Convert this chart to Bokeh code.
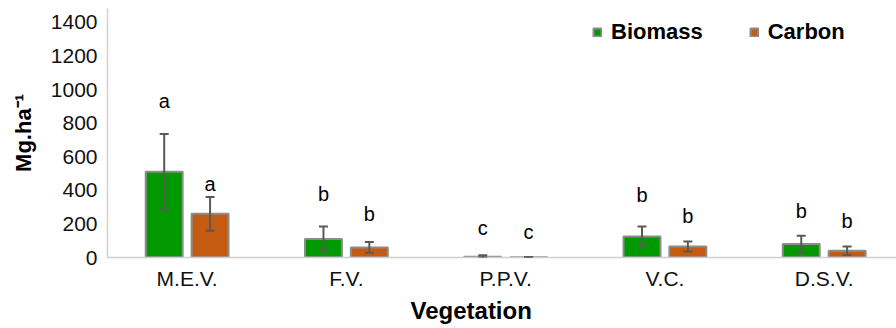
from bokeh.plotting import figure
from bokeh.models import (ColumnDataSource, Whisker, TeeHead, FixedTicker, Range1d,
                          Legend, LegendItem, Title)
from bokeh.core.properties import value
from bokeh.embed import file_html
from bokeh.resources import INLINE

# ---- data ----
categories = ["M.E.V.", "F.V.", "P.P.V.", "V.C.", "D.S.V."]
biomass = [510, 110, 5, 125, 80]
biomass_sd = [225, 75, 8, 60, 50]
carbon = [260, 60, 2, 65, 40]
carbon_sd = [100, 32, 1, 30, 25]
biomass_letters = ["a", "b", "c", "b", "b"]
carbon_letters = ["a", "b", "c", "b", "b"]
biomass_letter_y = [935, 380, 175, 370, 275]
carbon_letter_y = [435, 260, 150, 250, 220]
y_ticks = [0, 200, 400, 600, 800, 1000, 1200, 1400]

FONT = "Liberation Sans"
GREEN = "#009900"
ORANGE = "#c55a11"
EDGE = "#8c8c8c"
ERR = "#595959"
AXIS = "#d0d0d0"
OFF = 0.144
BW = 0.232

idx = list(range(len(categories)))


def make_src(vals, sds, letters, ly, off):
    return ColumnDataSource(dict(
        x=[i + off for i in idx],
        top=vals,
        upper=[v + s for v, s in zip(vals, sds)],
        lower=[max(v - s, 0) for v, s in zip(vals, sds)],
        ly=ly,
        lt=letters,
    ))


src_b = make_src(biomass, biomass_sd, biomass_letters, biomass_letter_y, -OFF)
src_c = make_src(carbon, carbon_sd, carbon_letters, carbon_letter_y, OFF)

p = figure(width=896, height=328, output_backend="svg", toolbar_location=None,
           x_range=Range1d(-0.5, 4.454), y_range=Range1d(0, 1483),
           min_border_left=107, min_border_right=0, min_border_top=8,
           min_border_bottom=71)
p.outline_line_color = None
p.xgrid.grid_line_color = None
p.ygrid.grid_line_color = None
p.background_fill_color = "white"
p.border_fill_color = "white"

rb = p.vbar(x="x", top="top", width=BW, source=src_b, fill_color=GREEN,
            line_color=EDGE, line_width=2)
rc = p.vbar(x="x", top="top", width=BW, source=src_c, fill_color=ORANGE,
            line_color=EDGE, line_width=2)

for src in (src_b, src_c):
    w = Whisker(source=src, base="x", upper="upper", lower="lower",
                line_color=ERR, line_width=2, level="overlay",
                upper_head=TeeHead(size=9, line_color=ERR, line_width=2),
                lower_head=TeeHead(size=9, line_color=ERR, line_width=2))
    p.add_layout(w)
    p.text(x="x", y="ly", text="lt", source=src, text_font=value(FONT),
           text_font_size="20px", text_align="center", text_baseline="middle",
           text_color="#000000")

# axes
p.xaxis.ticker = FixedTicker(ticks=idx)
p.xaxis.major_label_overrides = {i: c for i, c in zip(idx, categories)}
p.yaxis.ticker = FixedTicker(ticks=y_ticks)
for ax in (p.xaxis, p.yaxis):
    ax.axis_line_color = AXIS
    ax.axis_line_width = 1.5
    ax.major_tick_line_color = None
    ax.minor_tick_line_color = None
    ax.major_tick_out = 0
    ax.major_tick_in = 0
    ax.major_label_text_font = FONT
    ax.major_label_text_font_size = "21px"
    ax.major_label_text_color = "#111111"
p.xaxis.major_label_standoff = 9
p.yaxis.major_label_standoff = 10

p.yaxis.axis_label = "Mg.ha\u207b\u00b9"
p.yaxis.axis_label_text_font = FONT
p.yaxis.axis_label_text_font_style = "bold"
p.yaxis.axis_label_text_font_size = "22px"
p.yaxis.axis_label_text_color = "#000000"
p.yaxis.axis_label_standoff = 12

p.add_layout(Title(text="Vegetation", align="left", offset=303,
                   text_font=FONT, text_font_style="bold",
                   text_font_size="24px", text_color="#000000",
                   standoff=5), "below")

legend = Legend(items=[LegendItem(label="Biomass", renderers=[rb]),
                       LegendItem(label="Carbon", renderers=[rc])],
                orientation="horizontal", location=(485, 212),
                glyph_width=10, glyph_height=10, label_standoff=9, spacing=46,
                padding=0, margin=0, border_line_color=None,
                background_fill_alpha=0, label_text_font=FONT,
                label_text_font_style="bold", label_text_font_size="22px",
                label_height=10, label_text_baseline="middle",
                label_text_color="#000000")
p.add_layout(legend)

open("out.html", "w").write(file_html(p, INLINE))
